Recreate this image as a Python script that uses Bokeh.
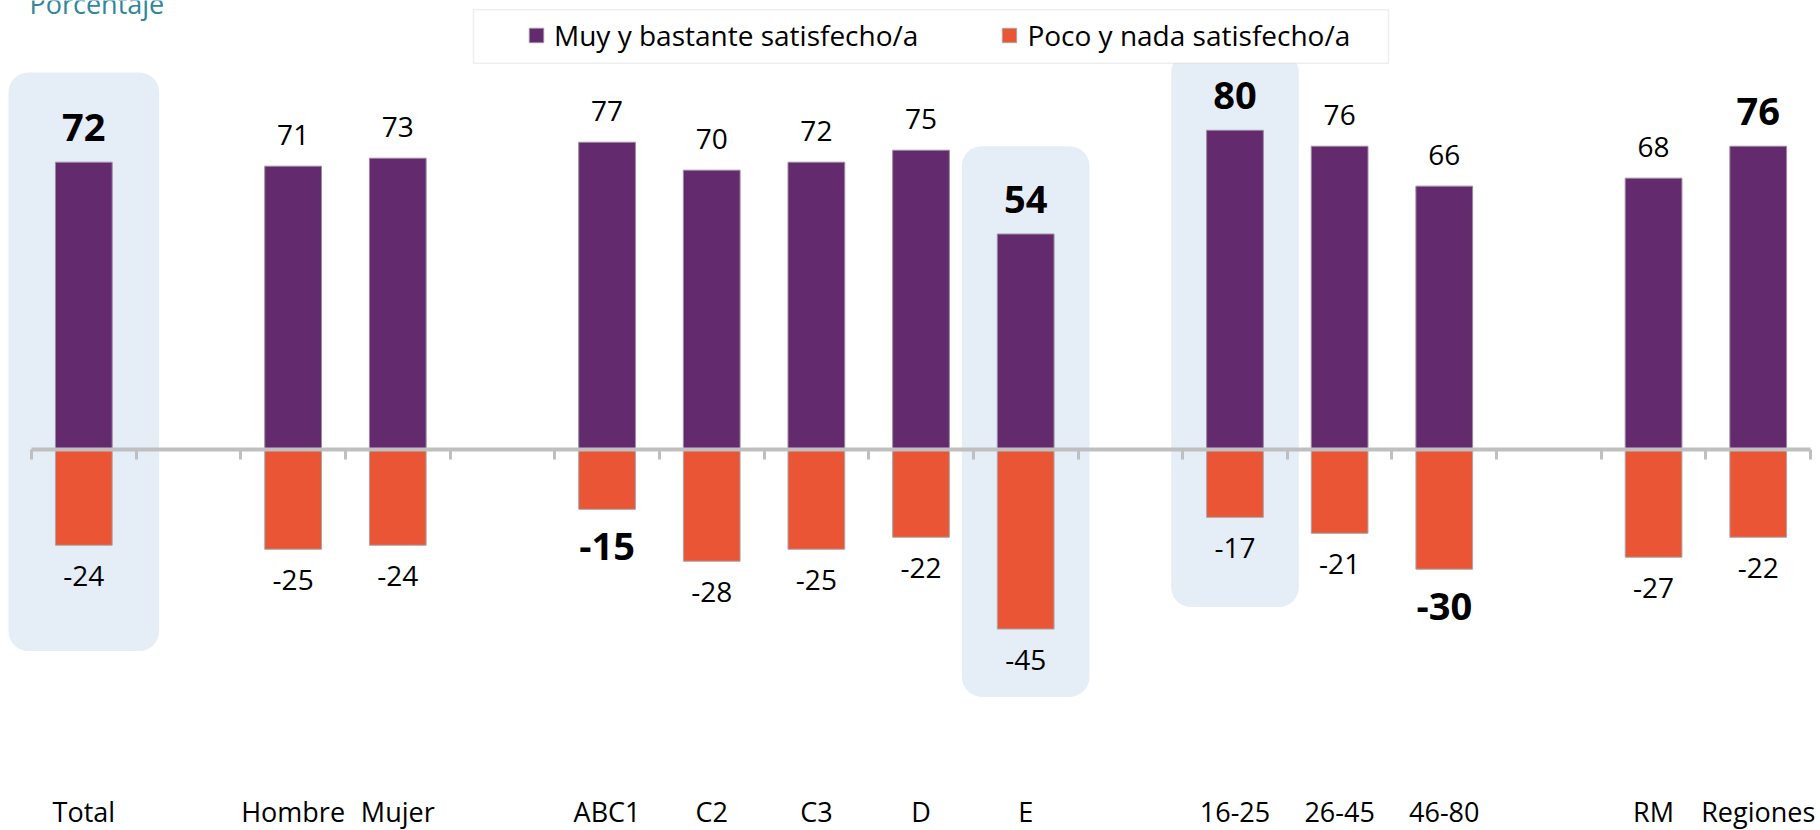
from bokeh.plotting import figure
from bokeh.models import (Range1d, LinearAxis, FixedTicker, ColumnDataSource, Label,
                          Legend, LegendItem, BoxAnnotation, CustomJSTickFormatter)
from bokeh.core.properties import value
from bokeh.embed import file_html
from bokeh.resources import INLINE

# ---------------- data ----------------
groups = [["Total"], ["Hombre", "Mujer"], ["ABC1", "C2", "C3", "D", "E"],
          ["16-25", "26-45", "46-80"], ["RM", "Regiones"]]
categories = [c for g in groups for c in g]
satisfied = [72, 71, 73, 77, 70, 72, 75, 54, 80, 76, 66, 68, 76]
dissatisfied = [-24, -25, -24, -15, -28, -25, -22, -45, -17, -21, -30, -27, -22]
satisfied_bold = [True, False, False, False, False, False, False, True, True, False, False, False, True]
dissatisfied_bold = [False, False, False, True, False, False, False, False, False, False, True, False, False]
series_names = ["Muy y bastante satisfecho/a", "Poco y nada satisfecho/a"]
unit_title = "Porcentaje"
highlighted = ["Total", "E", "16-25"]

# ---------------- style ----------------
PURPLE = "#632A6E"
ORANGE = "#E95535"
HILITE = "#E5EDF7"
AXIS_GRAY = "#BFBFBF"
TEAL = "#31859C"
FONT = "Open Sans"

W, H = 1820, 830
PX_PER_UNIT = 3.99       # px per percentage point
SLOT_PX = 104.65         # px per category slot
AXIS_LEFT_PX = 31        # left end of the category axis
ZERO_PX = 449            # zero line, px from top
LABEL_AXIS_PX = 792      # category label axis, px from top

# slot layout: one empty slot between groups
xpos = []
slot = 0
for gi, g in enumerate(groups):
    if gi > 0:
        slot += 1
    for c in g:
        xpos.append(slot + 0.5)
        slot += 1
n_slots = slot

x_start = -AXIS_LEFT_PX / SLOT_PX
x_end = (W - AXIS_LEFT_PX) / SLOT_PX
y_end = ZERO_PX / PX_PER_UNIT
y_start = -(H - ZERO_PX) / PX_PER_UNIT

p = figure(width=W, height=H, x_range=Range1d(x_start, x_end), y_range=Range1d(y_start, y_end),
           output_backend="svg", toolbar_location=None,
           x_axis_location=None, y_axis_location=None,
           min_border_left=0, min_border_right=0, min_border_top=0, min_border_bottom=0)
p.outline_line_color = None
p.background_fill_color = "white"
p.border_fill_color = "white"
p.grid.visible = False

# highlight boxes (category, half width in slots, padding above/below in value units)
hl_style = {"Total": (0.72, 22.5, 26.5), "E": (0.61, 22, 17), "16-25": (0.61, 19.5, 22.5)}
for cat in highlighted:
    i = categories.index(cat)
    hw, tp, bp = hl_style[cat]
    p.add_layout(BoxAnnotation(left=xpos[i] - hw, right=xpos[i] + hw,
                               top=satisfied[i] + tp, bottom=dissatisfied[i] - bp,
                               fill_color=HILITE, fill_alpha=1.0, line_color=None,
                               border_radius=20, level="underlay"))

src = ColumnDataSource(dict(x=xpos, cat=categories, pos=satisfied, neg=dissatisfied))
BAR_W = 0.542
r1 = p.vbar(x="x", top="pos", bottom=0, width=BAR_W, source=src,
            fill_color=PURPLE, line_color="#9A8A9E", line_width=1)
r2 = p.vbar(x="x", top=0, bottom="neg", width=BAR_W, source=src,
            fill_color=ORANGE, line_color="#A8A8A8", line_width=1)

# zero line axis with ticks at slot boundaries
zero_axis = LinearAxis(fixed_location=0, bounds=(0, n_slots),
                       ticker=FixedTicker(ticks=list(range(n_slots + 1))),
                       formatter=CustomJSTickFormatter(code="return ''"),
                       axis_line_color=AXIS_GRAY, axis_line_width=4,
                       major_tick_line_color=AXIS_GRAY, major_tick_line_width=3,
                       major_tick_in=0, major_tick_out=10,
                       minor_tick_line_color=None, major_label_standoff=0)
p.add_layout(zero_axis, "below")

# category labels
label_axis = LinearAxis(fixed_location=(ZERO_PX - LABEL_AXIS_PX) / PX_PER_UNIT,
                        ticker=FixedTicker(ticks=xpos),
                        formatter=CustomJSTickFormatter(args=dict(pos=xpos, names=categories), code="""
                            for (let i = 0; i < pos.length; i++) {
                                if (Math.abs(pos[i] - tick) < 1e-6) return names[i];
                            }
                            return '';
                        """),
                        axis_line_color=None, major_tick_line_color=None, minor_tick_line_color=None,
                        major_tick_in=0, major_tick_out=0, major_label_standoff=0,
                        major_label_text_font=FONT, major_label_text_font_size="27px",
                        major_label_text_color="black")
p.add_layout(label_axis, "below")

# value labels
def label_source(bold):
    d = dict(x=[], y=[], t=[], off=[])
    for x, v, b in zip(xpos, satisfied, satisfied_bold):
        if b == bold:
            d["x"].append(x); d["y"].append(v); d["t"].append(str(v))
            d["off"].append(-35 if bold else -31)
    for x, v, b in zip(xpos, dissatisfied, dissatisfied_bold):
        if b == bold:
            d["x"].append(x); d["y"].append(v); d["t"].append(str(v))
            d["off"].append(37 if bold else 31)
    return ColumnDataSource(d)

p.text(x="x", y="y", text="t", y_offset="off", source=label_source(False),
       text_font=value(FONT), text_font_size="28px", text_color="black",
       text_align="center", text_baseline="alphabetic")
p.text(x="x", y="y", text="t", y_offset="off", source=label_source(True),
       text_font=value(FONT), text_font_size="38px", text_font_style="bold", text_color="black",
       text_align="center", text_baseline="alphabetic")

# unit title (partly cut off at the top, as in the original)
p.add_layout(Label(x=0, y=y_end, text=unit_title, x_offset=-2, y_offset=-3,
                   text_font=FONT, text_font_size="27px", text_color=TEAL,
                   text_baseline="alphabetic"))

# legend frame + legend
p.add_layout(BoxAnnotation(left=473, right=1388, top=H - 9.3, bottom=H - 62.7,
                           left_units="screen", right_units="screen",
                           top_units="screen", bottom_units="screen",
                           fill_color="white", fill_alpha=1.0,
                           line_color="#C8C8C8", line_width=1.5, level="overlay"))
legend = Legend(items=[LegendItem(label=series_names[0], renderers=[r1]),
                       LegendItem(label=series_names[1], renderers=[r2])],
                orientation="horizontal", location=(527, H - 54),
                border_line_color=None, background_fill_alpha=0,
                label_text_font=FONT, label_text_font_size="28px", label_text_color="black",
                glyph_width=18, glyph_height=18, label_standoff=9, spacing=82,
                padding=8, margin=0, label_width=0)
p.add_layout(legend)

open("out.html", "w").write(file_html(p, INLINE))
